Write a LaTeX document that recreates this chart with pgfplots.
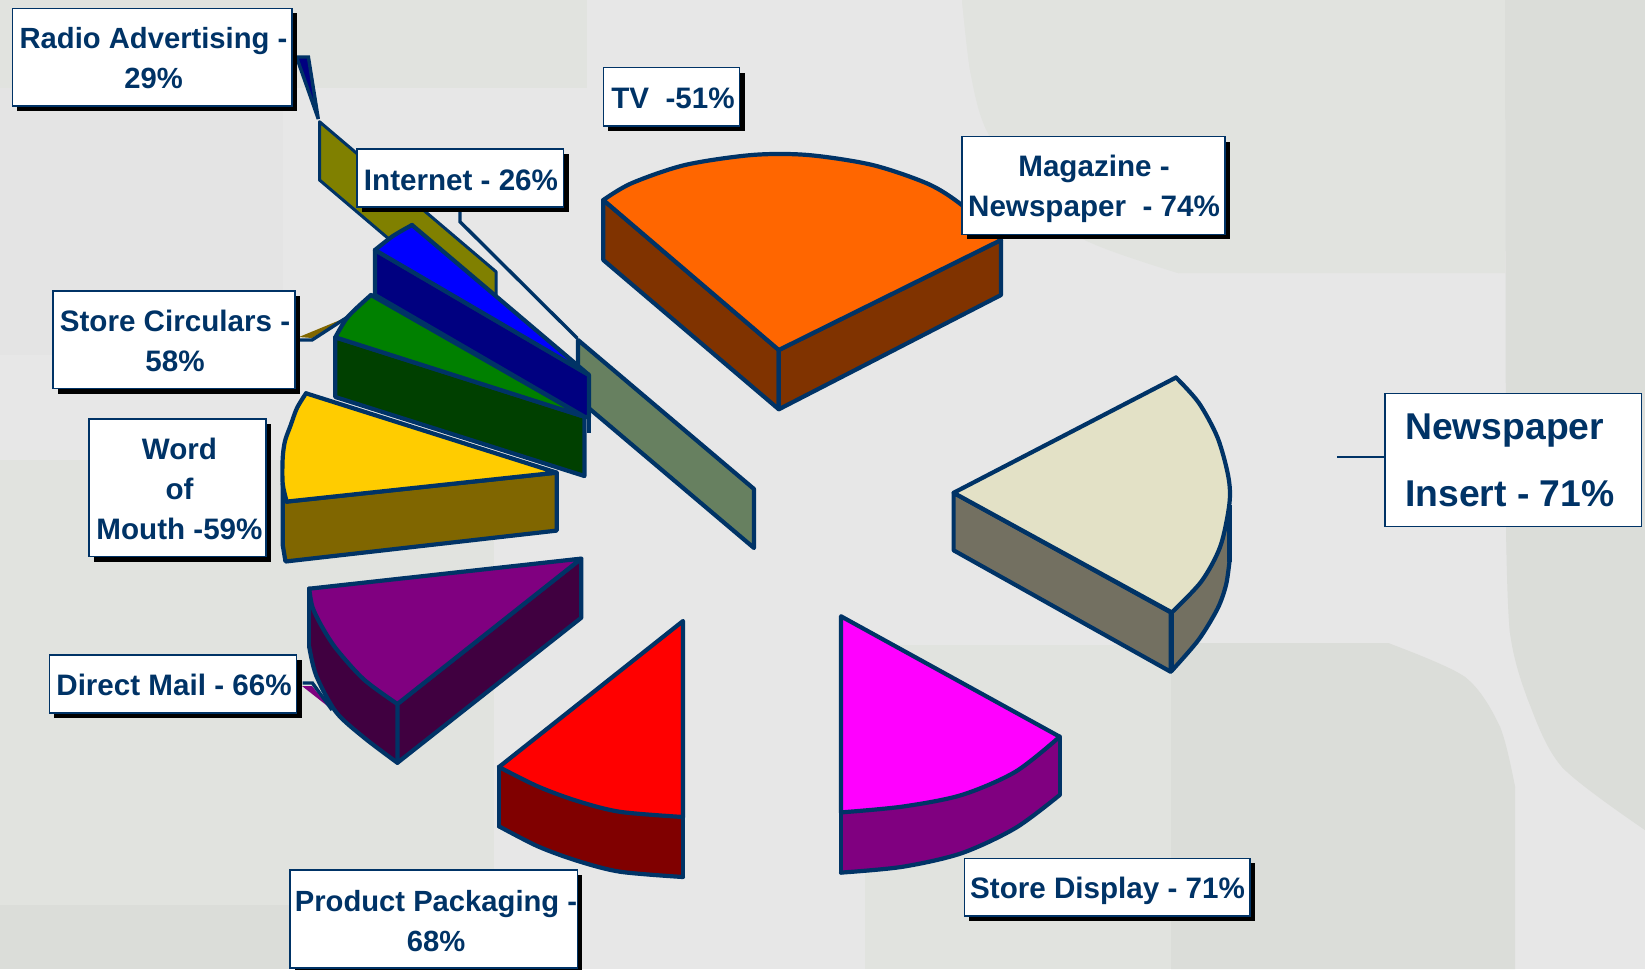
\documentclass[border=0pt]{standalone}
\usepackage{pgfplots}
\pgfplotsset{compat=1.18}
\usepackage{fontspec}
\setmainfont{Liberation Sans}
\definecolor{edge}{HTML}{003366}
\definecolor{bgA}{HTML}{E7E7E7}
\definecolor{bgB}{HTML}{E1E3DF}
\definecolor{bgC}{HTML}{DBDDD9}
\definecolor{bgD}{HTML}{E4E4E4}
\definecolor{tvside}{HTML}{678060}
\definecolor{olivein}{HTML}{808000}
\definecolor{navyw}{HTML}{000080}
\definecolor{brownw}{HTML}{806600}
\definecolor{greend}{HTML}{004000}
\definecolor{greenm}{HTML}{008000}
\definecolor{bluem}{HTML}{0000FF}
\definecolor{yellowm}{HTML}{FFCC00}
\definecolor{plumd}{HTML}{400040}
\definecolor{purplem}{HTML}{800080}
\definecolor{redd}{HTML}{800000}
\definecolor{redm}{HTML}{FF0000}
\definecolor{magentam}{HTML}{FF00FF}
\definecolor{rustd}{HTML}{803300}
\definecolor{orangem}{HTML}{FF6600}
\definecolor{khakid}{HTML}{737061}
\definecolor{cream}{HTML}{E3E1C6}
\tikzset{lab/.style={text=edge,font=\fontsize{29.6}{40}\selectfont\bfseries,align=center,inner sep=0pt},
  labn/.style={lab,font=\fontsize{29.2}{40}\selectfont\bfseries},
  faceline/.style={draw=edge,line width=4.2pt}}
% flat panel with no outline
\newcommand{\panel}[2]{\addplot[forget plot,no marks,fill=#1,draw=none] coordinates {#2} -- cycle;}
% flat panel with one rounded run of points: colour, run, remaining corners
\newcommand{\softpanel}[3]{%
  \addplot[forget plot,no marks,fill=#1,draw=none] coordinates {#2 #3} -- cycle;
  \addplot[forget plot,no marks,smooth,fill=#1,draw=none] coordinates {#2} -- cycle;}
% straight-edged pie face with the dark outline
\newcommand{\face}[2]{\addplot[forget plot,no marks,fill=#1,faceline,line join=round] coordinates {#2} -- cycle;}
% pie face with one curved run: colour, curved run, straight outline, remaining corners
\newcommand{\sector}[4]{%
  \addplot[forget plot,no marks,fill=#1,draw=none] coordinates {#2 #4} -- cycle;
  \addplot[forget plot,no marks,smooth,fill=#1,draw=none] coordinates {#2} -- cycle;
  \addplot[forget plot,no marks,smooth,faceline,line cap=round] coordinates {#2};
  \addplot[forget plot,no marks,faceline,line join=round,line cap=round] coordinates {#3};}
% label box with drop shadow, corners x0 y0 x1 y1
\newcommand{\labelbox}[4]{%
  \pgfmathsetmacro{\sxa}{#1+5}\pgfmathsetmacro{\sya}{#2+5}%
  \pgfmathsetmacro{\sxb}{#3+5}\pgfmathsetmacro{\syb}{#4+5}%
  \addplot[forget plot,no marks,fill=black,draw=none] coordinates {(\sxa,\sya) (\sxb,\sya) (\sxb,\syb) (\sxa,\syb)} -- cycle;
  \addplot[forget plot,no marks,fill=white,draw=edge,line width=1.5pt] coordinates {(#1,#2) (#3,#2) (#3,#4) (#1,#4)} -- cycle;}
\begin{document}
\begin{tikzpicture}
\begin{axis}[
  scale only axis, width=1645pt, height=969pt,
  xmin=0, xmax=1645, ymin=0, ymax=969, y dir=reverse,
  hide axis, clip=true
]
% backdrop
\panel{bgA}{(0,0)(1645,0)(1645,969)(0,969)}
\panel{bgB}{(0,0)(587,0)(587,88)(0,88)}
\panel{bgD}{(0,88)(283,88)(283,355)(0,355)}
\panel{bgB}{(0,460)(494,460)(494,969)(0,969)}
\panel{bgC}{(0,905)(494,905)(494,969)(0,969)}
\softpanel{bgB}{(962,0)(970,70)(985,127)(1025,190)(1085,240)(1178,273)}{(1505,273)(1505,0)}
\panel{bgB}{(865,645)(1171,645)(1171,969)(865,969)}
\softpanel{bgC}{(1388,643)(1465,677)(1500,727)(1515,787)}{(1515,969)(1171,969)(1171,643)}
\softpanel{bgC}{(1506,527)(1510,633)(1528,700)(1562,767)(1645,830)}{(1645,0)(1505,0)}

% TV slice
\face{tvside}{(578,340)(754,489)(754,548)(578,399)}
% Radio and Internet callout wedges
\addplot[forget plot,no marks,fill=olivein,draw=edge,line width=3pt,line join=round] coordinates {(319.5,121.7)(496,271.7)(496,330)(319.5,180)} -- cycle;
\addplot[forget plot,no marks,fill=navyw,draw=edge,line width=3.4pt] coordinates {(296.5,57)(308.4,57)(318.3,119)} -- cycle;
\addplot[forget plot,no marks,draw=edge,line width=3.4pt] coordinates {(460,211.7)(460,221.7)(577.3,338.3)};
\addplot[forget plot,no marks,fill=brownw,draw=none] coordinates {(299,337)(345,318)(312,338)} -- cycle;
\addplot[forget plot,no marks,draw=edge,line width=3.4pt] coordinates {(299,340)(312,340)(348,316.7)};
\addplot[forget plot,no marks,fill=purplem,draw=none] coordinates {(302,686)(330,708)(312,686)} -- cycle;
\addplot[forget plot,no marks,draw=edge,line width=3.4pt] coordinates {(302.5,683)(312.4,683)(332,710)};
\addplot[forget plot,no marks,draw=edge,line width=1.4pt] coordinates {(1337,457)(1385,457)};

% Internet slice, back edge
\addplot[forget plot,no marks,faceline] coordinates {(589,375)(589,433)};
% Store Circulars
\face{greend}{(335.3,337.3)(335.3,397)(584.4,476)(584.4,416.7)}
\sector{greenm}{(371,295)(348,316.7)(335.3,337.3)}{(335.3,337.3)(584.4,416.7)(371,295)}{(584.4,416.7)}
% Internet slice
\face{navyw}{(375,250)(375,295)(585,417)(589,417)(589,375)}
\sector{bluem}{(375,250)(393,236)(412,225)}{(412,225)(589,375)(375,250)}{(589,375)}
% Word of Mouth
\face{brownw}{(286,501.6)(556.7,472.6)(556.7,530.6)(285.5,561.5)(282.7,545)(282.7,483)}
\sector{yellowm}{(306,393.3)(297,408)(290.6,425.4)(285,441)(282.7,458)(282.7,483.5)(286.7,501.6)}{(286.7,501.6)(556.7,472.6)(306,393.3)}{(556.7,472.6)}
% Direct Mail
\sector{plumd}{(309.2,646.7)(316.3,675.8)(336,712)(363.8,737.4)(397.4,762.8)}{(309.2,646.7)(309.2,588.7)}{(397.4,704)(309.2,588.7)}
\face{plumd}{(397.4,704)(581.3,558.6)(581.3,617.7)(397.4,762.8)}
\sector{purplem}{(309.2,588.7)(312.4,606.8)(321,625)(336,648.5)(363.8,679.4)(397.4,704)}{(397.4,704)(581.3,558.6)(309.2,588.7)}{(581.3,558.6)}
% Product Packaging
\sector{redd}{(499,826.3)(537.8,846.3)(577.3,860.8)(620,871.7)(683,877)}{(499,767)(499,826.3)}{(683,817)(499,767)}
\addplot[forget plot,no marks,faceline] coordinates {(683,817)(683,877)};
\sector{redm}{(499,767)(537.8,786.4)(577.3,801)(620,811.8)(683,817)}{(683,817)(683,621)(499,767)}{(683,621)}
% Store Display
\sector{purplem}{(841,872.6)(902.4,866.8)(961.6,853.2)(1015.5,828)(1059.7,795)}{(841,812.4)(841,872.6)}{(1059.7,736.7)(841,812.4)}
\addplot[forget plot,no marks,faceline] coordinates {(1059.7,795)(1059.7,736.7)};
\sector{magentam}{(1059.7,736.7)(1015.5,771.7)(961.6,795)(902.4,806.6)(841,812.4)}{(841,812.4)(841,616.3)(1059.7,736.7)}{(841,616.3)}
% Magazine-Newspaper
\face{rustd}{(603.3,200)(603.3,260)(778.8,409.3)(778.8,350)}
\face{rustd}{(778.8,350)(1001,240)(1001,295)(778.8,409.3)}
\sector{orangem}{(603.3,200)(631.4,183.3)(685,165)(752,155)(807.8,155)(872.5,165)(928.3,184)(961.8,205)(1001,240)}{(1001,240)(778.8,350)(603.3,200)}{(778.8,350)}
% Newspaper Insert
\face{khakid}{(953.6,492.8)(953.6,550.3)(1170.7,671.8)(1170.7,612.4)}
\sector{khakid}{(1171.8,670.7)(1198.7,639.6)(1217.6,608.5)(1226,585)(1229.4,562)}{(1171.8,670.7)(1171.8,612.4)}{(1229.4,505)(1171.8,612.4)}
\addplot[forget plot,no marks,faceline] coordinates {(1229.4,505)(1229.4,562)};
\sector{cream}{(1176,377.5)(1198.7,402.7)(1217.6,437.7)(1228.3,476.5)(1229.4,503.7)(1220.3,546.4)(1201.4,581.4)(1171.8,612.4)}{(1171.8,612.4)(953.6,492.8)(1176,377.5)}{(953.6,492.8)}

% Label boxes and their text
\labelbox{12.3}{8.3}{292}{106}
\labelbox{357}{149}{563.5}{207}
\labelbox{603.3}{67.7}{739.5}{126}
\labelbox{961.8}{136.7}{1225}{234.3}
\labelbox{53}{291}{295}{388.7}
\labelbox{89}{419.2}{266}{556.7}
\labelbox{49.4}{655}{296.6}{712.8}
\labelbox{289.8}{869.9}{577.3}{968}
\labelbox{964.3}{858.3}{1250}{916}
\addplot[forget plot,no marks,fill=white,draw=edge,line width=1.5pt] coordinates {(1385,393.4)(1641.6,393.4)(1641.6,526.6)(1385,526.6)} -- cycle;

\node[labn] at (axis cs:153.5,58) {Radio Advertising -\\29\%};
\node[lab] at (axis cs:461,180) {Internet - 26\%};
\node[lab] at (axis cs:673,98.5) {TV~~-51\%};
\node[lab] at (axis cs:1094,189) {Magazine -\\Newspaper~~- 74\%};
\node[lab] at (axis cs:175,341) {Store Circulars -\\58\%};
\node[lab] at (axis cs:179.5,489) {Word\\of\\Mouth -59\%};
\node[lab] at (axis cs:174,685) {Direct Mail - 66\%};
\node[labn] at (axis cs:436,921) {Product Packaging -\\68\%};
\node[lab] at (axis cs:1107.5,891) {Store Display - 71\%};
\node[lab,font=\fontsize{37.3}{67}\selectfont\bfseries,align=left,anchor=west] at (axis cs:1405,460) {Newspaper\\Insert - 71\%};
\end{axis}
\end{tikzpicture}
\end{document}
